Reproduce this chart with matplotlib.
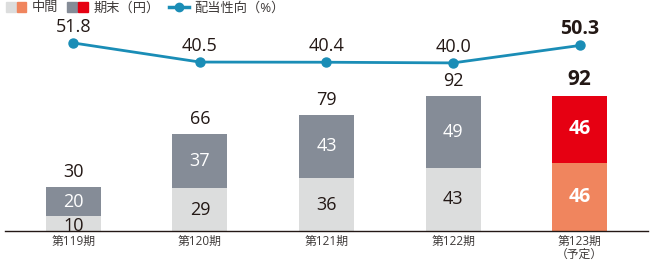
import matplotlib
matplotlib.use("Agg")
import matplotlib.pyplot as plt
from matplotlib.patches import Patch
from matplotlib.lines import Line2D
from matplotlib.legend_handler import HandlerTuple

plt.rcParams['font.family'] = ['Open Sans', 'Noto Sans CJK JP', 'DejaVu Sans']

# data
periods = ["第119期", "第120期", "第121期", "第122期", "第123期\n（予定）"]
interim = [10, 29, 36, 43, 46]
year_end = [20, 37, 43, 49, 46]
total = [30, 66, 79, 92, 92]
payout = [51.8, 40.5, 40.4, 40.0, 50.3]
forecast = [False, False, False, False, True]

c_interim = "#dcdddd"
c_end = "#858c97"
c_interim_f = "#f0855e"
c_end_f = "#e60012"
c_line = "#1a8db6"
c_text = "#231815"

fig = plt.figure(figsize=(6.5, 2.65), dpi=100)
ax = fig.add_axes([5 / 650, 1 - 231 / 265, 643 / 650, 231 / 265])

x = list(range(len(periods)))
w = 0.435
for i in x:
    ci = c_interim_f if forecast[i] else c_interim
    ce = c_end_f if forecast[i] else c_end
    ax.bar(i, interim[i], w, color=ci)
    ax.bar(i, year_end[i], w, bottom=interim[i], color=ce)
    fw = "bold" if forecast[i] else "normal"
    fs = 14 if forecast[i] else 13
    ti = "white" if forecast[i] else c_text
    ax.text(i, interim[i] / 2 - (1.5 if interim[i] < 15 else 0), str(interim[i]),
            ha="center", va="center", fontsize=fs, color=ti, fontweight=fw)
    ax.text(i, interim[i] + year_end[i] / 2, str(year_end[i]),
            ha="center", va="center", fontsize=fs, color="white", fontweight=fw)
    ax.annotate(str(total[i]), (i, total[i]), xytext=(0, 4), textcoords="offset points",
                ha="center", va="bottom", fontsize=15 if forecast[i] else 13,
                color=c_text, fontweight=fw)

ax.set_xlim(-0.54, 4.54)
ax.set_ylim(0, 157)
for s in ["top", "right", "left"]:
    ax.spines[s].set_visible(False)
ax.spines["bottom"].set_color(c_text)
ax.spines["bottom"].set_linewidth(1.0)
ax.set_yticks([])
ax.set_xticks(x)
ax.set_xticklabels(periods, fontsize=8.5, color="#3e3a39", linespacing=0.95)
ax.tick_params(axis="x", length=0, pad=3)

ax2 = ax.twinx()
ax2.set_ylim(-59.4, 77.2)
ax2.axis("off")
ax2.plot(x, payout, color=c_line, lw=2, marker="o", ms=6.5)
for i in x:
    fw = "bold" if forecast[i] else "normal"
    ax2.annotate(f"{payout[i]:.1f}", (i, payout[i]), xytext=(0, 5), textcoords="offset points",
                 ha="center", va="bottom", fontsize=14 if forecast[i] else 13,
                 color=c_text, fontweight=fw)

handles = [(Patch(color=c_interim), Patch(color=c_interim_f)),
           (Patch(color=c_end), Patch(color=c_end_f)),
           Line2D([], [], color=c_line, lw=2.5, marker="o", ms=6)]
labels = ["中間", "期末（円）", "配当性向（%）"]
fig.legend(handles, labels, loc="upper left", bbox_to_anchor=(-0.009, 1.04), ncol=3,
           frameon=False, fontsize=9.5, handlelength=1.55, handleheight=0.76,
           handletextpad=0.4, columnspacing=0.7, labelcolor="#3e3a39",
           handler_map={tuple: HandlerTuple(ndivide=None, pad=0.07)})

fig.savefig("out.png", dpi=100)
